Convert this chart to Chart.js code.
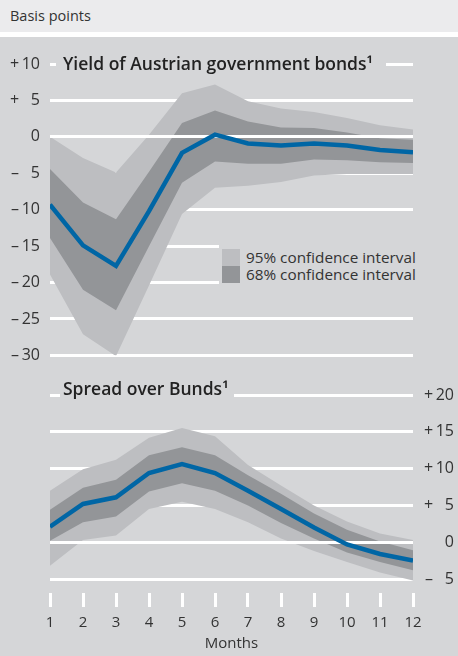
<!DOCTYPE html>
<html><head><meta charset="utf-8">
<script src="https://cdn.jsdelivr.net/npm/chart.js@4.4.1/dist/chart.umd.min.js"></script>
<style>
body{margin:0;width:458px;height:656px;position:relative;overflow:hidden;background:#fff;font-family:"Open Sans",sans-serif;color:#333}
#hdr{position:absolute;left:0;top:0;width:458px;height:32px;background:#ebebed;font-size:14.5px;line-height:32px;padding-left:10px;box-sizing:border-box}
#panel{position:absolute;left:0;top:37px;width:458px;height:619px;background:#d5d6d8}
canvas{position:absolute;left:0}
.ttl{position:absolute;background:#d5d6d8;font-weight:600;font-size:17.5px;line-height:20px;white-space:nowrap;color:#222}
#leg{position:absolute;left:219px;top:244px;width:200px;height:46px;background:#d5d6d8;font-size:15.3px}
.sw{position:absolute;left:3px;width:18px;height:17px}
.lt{position:absolute;left:27px;line-height:17px;white-space:nowrap}
</style></head>
<body>
<div id="hdr">Basis points</div>
<div id="panel"></div>
<canvas id="c1" width="458" height="337" style="top:38px"></canvas>
<canvas id="c2" width="458" height="281" style="top:375px"></canvas>
<div class="ttl" style="left:56px;top:53px;padding:0 13px 0 7px">Yield of Austrian government bonds¹</div>
<div class="ttl" style="left:60px;top:378px;padding:0 5px 0 3px">Spread over Bunds¹</div>
<div id="leg">
  <div class="sw" style="top:5px;background:#bdbec1"></div>
  <div class="sw" style="top:22px;background:#939598"></div>
  <div class="lt" style="top:5px">95% confidence interval</div>
  <div class="lt" style="top:22px">68% confidence interval</div>
</div>
<script>
// ---- data ----
const months = ['1','2','3','4','5','6','7','8','9','10','11','12'];

const yieldMean = [-9.3, -14.9, -17.7, -10.2, -2.2, 0.3, -0.9, -1.2, -0.9, -1.2, -1.8, -2.1];
const yieldHi95 = [0, -2.9, -4.9, 0.3, 6.0, 7.2, 4.9, 3.9, 3.4, 2.6, 1.6, 1.0];
const yieldHi68 = [-4.4, -9.0, -11.3, -4.8, 1.9, 3.6, 2.1, 1.3, 1.2, 0.6, -0.2, -0.4];
const yieldLo68 = [-13.9, -21.0, -23.8, -15.0, -6.3, -3.4, -3.7, -3.7, -3.1, -3.2, -3.5, -3.6];
const yieldLo95 = [-18.9, -27.1, -30.1, -20.4, -10.6, -7.0, -6.7, -6.2, -5.3, -5.1, -5.1, -5.1];

const spreadMean = [2.1, 5.2, 6.1, 9.4, 10.6, 9.4, 7.0, 4.5, 2.0, -0.3, -1.6, -2.5];
const spreadHi95 = [7.0, 9.9, 11.2, 14.2, 15.5, 14.4, 10.5, 7.7, 5.0, 2.8, 1.2, 0.3];
const spreadHi68 = [4.4, 7.4, 8.5, 11.8, 12.9, 11.8, 9.1, 6.6, 3.9, 1.7, 0.1, -1.1];
const spreadLo68 = [0.2, 2.7, 3.5, 6.9, 8.0, 7.0, 5.0, 2.6, 0.5, -1.4, -2.7, -3.8];
const spreadLo95 = [-3.2, 0.3, 0.9, 4.5, 5.5, 4.5, 2.7, 0.5, -1.2, -2.7, -4.1, -5.2];

const yieldTicks = [10, 5, 0, -5, -10, -15, -20, -25, -30];
const yieldTickLabels = ['+\u200910', '+\u2009\u20075', '0', '–\u2009\u20075', '–\u200910', '–\u200915', '–\u200920', '–\u200925', '–\u200930'];
const spreadTicks = [20, 15, 10, 5, 0, -5];
const spreadTickLabels = ['+\u200920', '+\u200915', '+\u200910', '+\u2009\u20075', '0', '–\u2009\u20075'];

// ---- style ----
const BLUE = '#0066a5', DARK = '#939598', LIGHT = '#bdbec1', TXT = '#333333';
const FONT = {family: '"Open Sans", sans-serif', size: 15};
const YFONT = {family: '"Open Sans", sans-serif', size: 16};

function bandDatasets(mean, hi68, lo68, hi95, lo95) {
  const base = {pointRadius: 0, borderWidth: 0, borderColor: 'transparent', tension: 0};
  return [
    {data: mean, borderColor: BLUE, borderWidth: 4.5, pointRadius: 0, fill: false, clip: 0, borderJoinStyle: 'miter'},
    Object.assign({data: hi68, fill: false}, base),
    Object.assign({data: lo68, fill: 1, backgroundColor: DARK}, base),
    Object.assign({data: hi95, fill: false}, base),
    Object.assign({data: lo95, fill: 3, backgroundColor: LIGHT}, base)
  ];
}

const zeroLine = {
  id: 'zeroLine',
  afterDatasetDraw(chart, args) {
    if (args.index !== 1) return;
    const {ctx, chartArea: a, scales: {y}} = chart;
    const py = Math.round(y.getPixelForValue(0) - 1.5) + 1.5;
    ctx.save();
    ctx.strokeStyle = '#ffffff';
    ctx.lineWidth = 3;
    ctx.beginPath();
    ctx.moveTo(a.left, py);
    ctx.lineTo(a.right, py);
    ctx.stroke();
    ctx.restore();
  }
};

function yScale(ticks, labels, min, max, pos, width, extra) {
  return {
    position: pos, min: min, max: max,
    afterBuildTicks: s => { s.ticks = ticks.slice().sort((a, b) => a - b).map(v => ({value: v})); },
    afterFit: s => { s.width = width; },
    grid: {color: '#ffffff', lineWidth: 3, drawTicks: false},
    border: {display: false},
    ticks: Object.assign({font: YFONT, color: TXT, callback: v => labels[ticks.indexOf(v)]}, extra)
  };
}

const common = {
  responsive: false, animation: false,
  plugins: {legend: {display: false}, tooltip: {enabled: false}, title: {display: false}},
  elements: {line: {tension: 0}}
};

new Chart(document.getElementById('c1'), {
  type: 'line',
  data: {labels: months, datasets: bandDatasets(yieldMean, yieldHi68, yieldLo68, yieldHi95, yieldLo95)},
  options: Object.assign({}, common, {
    layout: {padding: {top: 26, bottom: 17, left: 0, right: 45}},
    scales: {
      x: {type: 'category', display: false, offset: false},
      y: yScale(yieldTicks, yieldTickLabels, -30, 10, 'left', 50, {padding: 10})
    }
  }),
  plugins: [zeroLine]
});

new Chart(document.getElementById('c2'), {
  type: 'line',
  data: {labels: months, datasets: bandDatasets(spreadMean, spreadHi68, spreadLo68, spreadHi95, spreadLo95)},
  options: Object.assign({}, common, {
    layout: {padding: {top: 20, bottom: 0, left: 50, right: 4}},
    scales: {
      x: {
        type: 'category', offset: false,
        grid: {display: true, drawOnChartArea: false, drawTicks: true, tickLength: 14, color: '#ffffff', lineWidth: 3},
        border: {display: false},
        ticks: {padding: 7, font: FONT, color: TXT, maxRotation: 0, autoSkip: false},
        title: {display: true, text: 'Months', font: FONT, color: TXT, padding: {top: 0, bottom: 3}},
        afterFit: s => { s.height = 63; }
      },
      y: yScale(spreadTicks, spreadTickLabels, -6.9, 20, 'right', 41, {crossAlign: 'far', padding: 0})
    }
  }),
  plugins: [zeroLine]
});
</script>
</body></html>
